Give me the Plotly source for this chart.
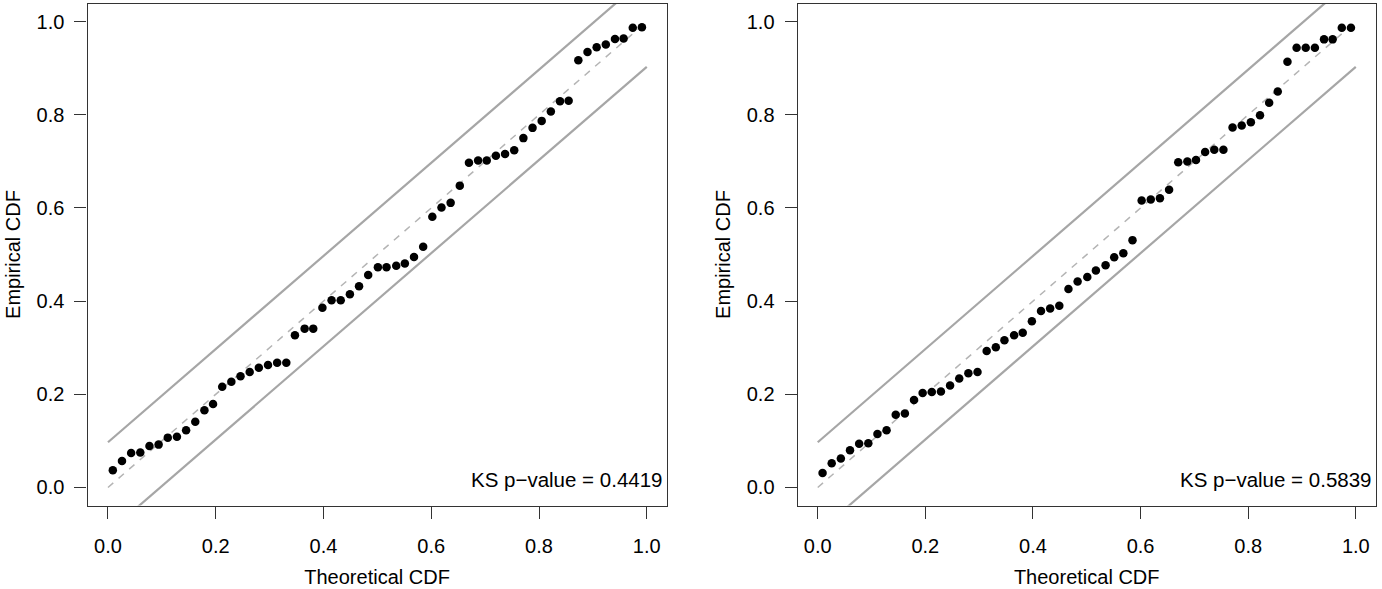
import plotly.graph_objects as go

# P-P plots: theoretical CDF vs empirical CDF, two samples
theoretical_cdf = [
    0.009, 0.026, 0.043, 0.060, 0.077, 0.094, 0.111, 0.128, 0.145, 0.162,
    0.179, 0.195, 0.212, 0.229, 0.246, 0.263, 0.280, 0.297, 0.314, 0.331,
    0.347, 0.365, 0.381, 0.398, 0.415, 0.432, 0.449, 0.466, 0.483, 0.501,
    0.517, 0.535, 0.551, 0.568, 0.585, 0.602, 0.619, 0.636, 0.653, 0.670,
    0.687, 0.703, 0.720, 0.737, 0.754, 0.771, 0.788, 0.805, 0.822, 0.839,
    0.855, 0.873, 0.890, 0.907, 0.924, 0.941, 0.957, 0.974, 0.991,
]

empirical_left = [
    0.037, 0.057, 0.074, 0.075, 0.089, 0.092, 0.107, 0.109, 0.123, 0.141,
    0.166, 0.179, 0.216, 0.227, 0.239, 0.248, 0.257, 0.263, 0.268, 0.268,
    0.327, 0.341, 0.341, 0.386, 0.402, 0.402, 0.415, 0.432, 0.456, 0.473,
    0.473, 0.476, 0.481, 0.495, 0.517, 0.581, 0.601, 0.611, 0.648, 0.697,
    0.702, 0.702, 0.712, 0.716, 0.724, 0.750, 0.772, 0.787, 0.807, 0.829,
    0.830, 0.917, 0.935, 0.945, 0.951, 0.963, 0.964, 0.987, 0.988,
]

empirical_right = [
    0.031, 0.052, 0.062, 0.080, 0.094, 0.095, 0.115, 0.123, 0.156, 0.159,
    0.188, 0.203, 0.205, 0.206, 0.219, 0.234, 0.245, 0.248, 0.293, 0.301,
    0.316, 0.327, 0.332, 0.357, 0.379, 0.384, 0.390, 0.426, 0.442, 0.452,
    0.466, 0.477, 0.494, 0.503, 0.531, 0.616, 0.618, 0.621, 0.639, 0.698,
    0.700, 0.703, 0.720, 0.725, 0.725, 0.773, 0.777, 0.784, 0.799, 0.826,
    0.850, 0.914, 0.944, 0.944, 0.944, 0.962, 0.962, 0.987, 0.987,
]

ks_pvalues = ["0.4419", "0.5839"]
band_halfwidth = 0.097
line_ends = [0, 1]
tick_vals = [0, 0.2, 0.4, 0.6, 0.8, 1.0]
tick_text = ["0.0", "0.2", "0.4", "0.6", "0.8", "1.0"]

W, H = 1382, 589
font = dict(family="Liberation Sans, Arial, sans-serif", size=20, color="black")

fig = go.Figure()

panels = [("x", "y", empirical_left), ("x2", "y2", empirical_right)]
for i, (xa, ya, emp) in enumerate(panels):
    # KS band
    fig.add_trace(go.Scatter(
        x=line_ends, y=[v + band_halfwidth for v in line_ends],
        mode="lines", line=dict(color="#a6a6a6", width=2.2),
        xaxis=xa, yaxis=ya, showlegend=False, hoverinfo="skip",
    ))
    fig.add_trace(go.Scatter(
        x=line_ends, y=[v - band_halfwidth for v in line_ends],
        mode="lines", line=dict(color="#a6a6a6", width=2.2),
        xaxis=xa, yaxis=ya, showlegend=False, hoverinfo="skip",
    ))
    # identity line
    fig.add_trace(go.Scatter(
        x=line_ends, y=line_ends,
        mode="lines", line=dict(color="#b4b4b4", width=1.5, dash="7px,7px"),
        xaxis=xa, yaxis=ya, showlegend=False, hoverinfo="skip",
    ))
    fig.add_trace(go.Scatter(
        x=theoretical_cdf, y=emp,
        mode="markers", marker=dict(color="black", size=8.5),
        xaxis=xa, yaxis=ya, showlegend=False,
    ))
    fig.add_annotation(
        x=1.033, y=0.018, xref=xa, yref=ya,
        text="KS p\u2212value = " + ks_pvalues[i],
        showarrow=False, xanchor="right", yanchor="middle",
        font=dict(font, size=20.5),
    )

axis_common = dict(
    tickvals=tick_vals, ticktext=tick_text, ticks="outside", ticklen=12,
    tickwidth=1.3, tickcolor="#333", showline=True, mirror=True,
    linecolor="#333", linewidth=1.3, showgrid=False, zeroline=False,
    tickfont=font, title_font=font,
)

xdom = [[87.5 / W, 666.7 / W], [797.7 / W, 1375.7 / W]]
ydom = [1 - 505.5 / H, 1 - 3.5 / H]
yrange = [-0.0387, 1.039]

fig.update_layout(
    width=W, height=H,
    margin=dict(l=0, r=0, t=0, b=0, autoexpand=False),
    plot_bgcolor="white", paper_bgcolor="white",
    font=font,
    xaxis=dict(axis_common, domain=xdom[0], range=[-0.0380, 1.037],
               anchor="y", ticklabelstandoff=10,
               title=dict(text="Theoretical CDF", standoff=14)),
    yaxis=dict(axis_common, domain=ydom, range=yrange,
               anchor="x", ticklabelstandoff=6,
               title=dict(text="Empirical CDF", standoff=10)),
    xaxis2=dict(axis_common, domain=xdom[1], range=[-0.0372, 1.037],
                anchor="y2", ticklabelstandoff=10,
                title=dict(text="Theoretical CDF", standoff=14)),
    yaxis2=dict(axis_common, domain=ydom, range=yrange,
                anchor="x2", ticklabelstandoff=6,
                title=dict(text="Empirical CDF", standoff=10)),
)

fig.write_html("out.html", config={"displayModeBar": False},
               post_script="document.body.style.margin='0';")
